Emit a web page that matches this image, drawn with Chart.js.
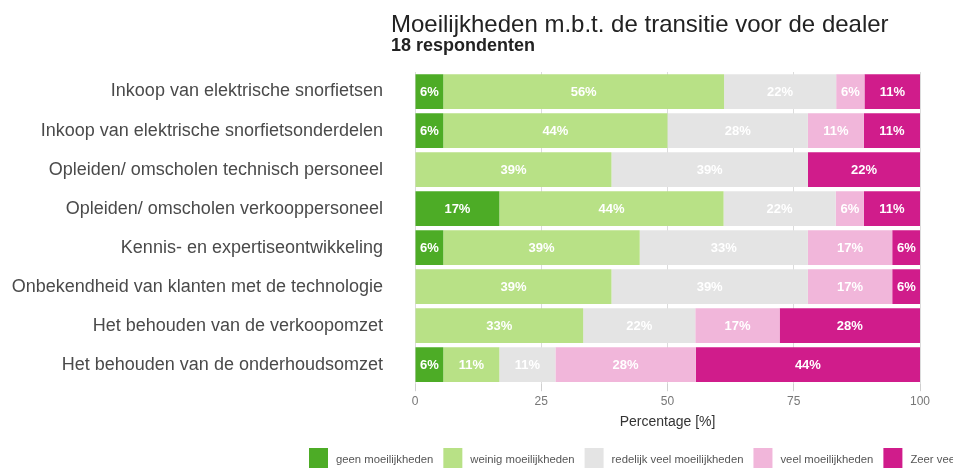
<!DOCTYPE html>
<html>
<head>
<meta charset="utf-8">
<script src="https://cdn.jsdelivr.net/npm/chart.js@4/dist/chart.umd.min.js"></script>
<style>
  html, body { margin: 0; padding: 0; background: #fff; overflow: hidden; }
  #wrap { width: 953px; height: 468px; position: relative; }
</style>
</head>
<body>
<div id="wrap"><canvas id="myChart"></canvas></div>
<script>
const categories = [
    "Inkoop van elektrische snorfietsen",
    "Inkoop van elektrische snorfietsonderdelen",
    "Opleiden/ omscholen technisch personeel",
    "Opleiden/ omscholen verkooppersoneel",
    "Kennis- en expertiseontwikkeling",
    "Onbekendheid van klanten met de technologie",
    "Het behouden van de verkoopomzet",
    "Het behouden van de onderhoudsomzet"
];
const seriesNames = ["geen moeilijkheden", "weinig moeilijkheden", "redelijk veel moeilijkheden", "veel moeilijkheden", "Zeer veel moeilijkheden"];
const seriesColors = ["#4dac26", "#b8e186", "#e4e4e4", "#f1b6da", "#d01c8b"];

// percentages per category (18 respondenten)
const geen = [5.6, 5.6, 0, 16.7, 5.6, 0, 0, 5.6];
const weinig = [55.6, 44.4, 38.9, 44.4, 38.9, 38.9, 33.3, 11.1];
const redelijk = [22.2, 27.8, 38.9, 22.2, 33.3, 38.9, 22.2, 11.1];
const veel = [5.6, 11.1, 0, 5.6, 16.7, 16.7, 16.7, 27.8];
const zeerVeel = [11.1, 11.1, 22.2, 11.1, 5.6, 5.6, 27.8, 44.4];

const xTickStep = 25;
const xMax = 100;

const title = "Moeilijkheden m.b.t. de transitie voor de dealer";
const subtitle = "18 respondenten";
const xTitle = "Percentage [%]";

const fontFamily = "'Liberation Sans', Arial, sans-serif";

// percentages inside the bars
const barLabels = {
    id: 'barLabels',
    afterDatasetsDraw(chart) {
        const ctx = chart.ctx;
        ctx.save();
        ctx.font = "bold 13px " + fontFamily;
        ctx.fillStyle = "#ffffff";
        ctx.textAlign = "center";
        ctx.textBaseline = "middle";
        chart.data.datasets.forEach((ds, i) => {
            chart.getDatasetMeta(i).data.forEach((bar, j) => {
                let v = ds.data[j];
                if (!v) return;
                ctx.fillText(Math.round(v) + "%", (bar.x + bar.base) / 2, bar.y + 1);
            });
        });
        ctx.restore();
    }
};

// title, subtitle and the legend (which runs off the right edge like the original)
const headerAndLegend = {
    id: 'headerAndLegend',
    afterDraw(chart) {
        const ctx = chart.ctx;
        const left = chart.chartArea.left - 24;
        ctx.save();
        ctx.textAlign = "left";
        ctx.textBaseline = "alphabetic";
        ctx.fillStyle = "#222";
        ctx.font = "24px " + fontFamily;
        ctx.fillText(title, left, 32);
        ctx.font = "bold 18px " + fontFamily;
        ctx.fillText(subtitle, left, 51);

        ctx.font = "11.3px " + fontFamily;
        ctx.textBaseline = "middle";
        let x = chart.chartArea.left - 106;
        chart.data.datasets.forEach((ds) => {
            ctx.fillStyle = ds.backgroundColor;
            ctx.fillRect(x, 448, 19, 22);
            ctx.fillStyle = "#555";
            ctx.fillText(ds.label, x + 27, 460);
            x += 27 + ctx.measureText(ds.label).width + 10;
        });
        ctx.restore();
    }
};

var ctx = document.getElementById("myChart").getContext("2d");
var myChart = new Chart(ctx, {
    type: 'bar',
    data: {
        labels: categories,
        datasets: [geen, weinig, redelijk, veel, zeerVeel].map((values, i) => ({
            label: seriesNames[i],
            data: values,
            backgroundColor: seriesColors[i],
            borderWidth: 0,
            barPercentage: 0.89,
            categoryPercentage: 1
        }))
    },
    options: {
        indexAxis: 'y',
        responsive: true,
        maintainAspectRatio: false,
        devicePixelRatio: 1,
        animation: false,
        layout: { padding: { top: 72, right: 33, bottom: 31.6, left: 0 } },
        plugins: {
            legend: { display: false },
            title: { display: false },
            tooltip: { enabled: false }
        },
        scales: {
            x: {
                stacked: true,
                min: 0,
                max: xMax,
                ticks: {
                    stepSize: xTickStep,
                    color: "#777",
                    padding: 3,
                    font: { family: fontFamily, size: 12 }
                },
                grid: { color: "#dcdcdc", tickLength: 7, tickColor: "#cfcfcf" },
                border: { display: false },
                title: {
                    display: true,
                    text: xTitle,
                    color: "#333",
                    padding: { top: 2, bottom: 6 },
                    font: { family: fontFamily, size: 14 }
                }
            },
            y: {
                stacked: true,
                grid: { display: false, drawTicks: false },
                border: { display: false },
                ticks: {
                    color: "#4a4a4a",
                    padding: 32,
                    font: { family: fontFamily, size: 18 }
                },
                afterFit(scale) { scale.width = 415; }
            }
        }
    },
    plugins: [barLabels, headerAndLegend]
});
</script>
</body>
</html>
